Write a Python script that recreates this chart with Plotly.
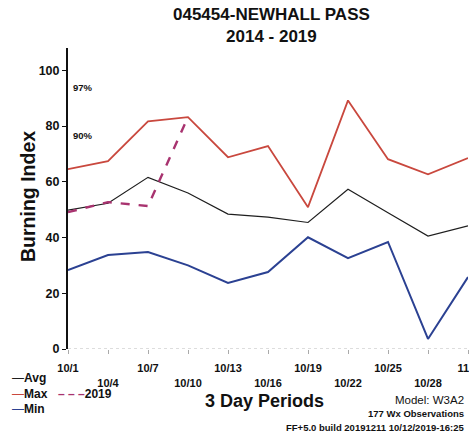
import plotly.graph_objects as go

categories = ["10/1", "10/4", "10/7", "10/10", "10/13", "10/16", "10/19", "10/22", "10/25", "10/28", "11/1"]
avg_vals = [49.8, 52.3, 61.6, 56.0, 48.4, 47.3, 45.4, 57.3, 48.9, 40.5, 44.2]
max_vals = [64.5, 67.4, 81.7, 83.2, 68.8, 72.8, 50.9, 89.2, 68.1, 62.7, 68.5]
min_vals = [28.3, 33.7, 34.8, 30.0, 23.7, 27.6, 40.1, 32.6, 38.4, 3.6, 25.8]
y2019_vals = [49.1, 52.7, 51.3, 83.2]
y_ticks = [0, 20, 40, 60, 80, 100]
pct_labels = [("97%", 93.9), ("90%", 76.7)]

W, H = 469, 434
L, R, T, B = 68, 1, 48, 85
PW, PH = W - L - R, H - T - B

def px(p):
    return (p - L) / PW

def py(p):
    return (H - B - p) / PH

FONT = "Liberation Sans, Arial, sans-serif"
C_AVG, C_MAX, C_MIN, C_19 = "#1e1e1e", "#c9483e", "#2b4192", "#a8336f"

tick_text = [c if i % 2 == 0 else " <br>" + c for i, c in enumerate(categories)]

fig = go.Figure()
fig.add_trace(go.Scatter(x=categories, y=max_vals, mode="lines", name="Max",
                         line=dict(color=C_MAX, width=1.8), showlegend=False))
fig.add_trace(go.Scatter(x=categories, y=avg_vals, mode="lines", name="Avg",
                         line=dict(color=C_AVG, width=1.2), showlegend=False))
fig.add_trace(go.Scatter(x=categories, y=min_vals, mode="lines", name="Min",
                         line=dict(color=C_MIN, width=2), showlegend=False))
fig.add_trace(go.Scatter(x=categories[:len(y2019_vals)], y=y2019_vals, mode="lines", name="2019",
                         line=dict(color=C_19, width=2.4, dash="dash"), showlegend=False))

fig.add_shape(type="line", xref="paper", yref="y", x0=0, x1=1, y0=0, y1=0,
              line=dict(color="#bbbbbb", width=1, dash="dot"), layer="below")

ann = []
ann.append(dict(text="<b>045454-NEWHALL PASS<br>2014 - 2019</b>", x=px(271), y=py(26), font=dict(size=17, color="#111")))
ann.append(dict(text="<b>Burning Index</b>", x=px(28), y=py(197), textangle=-90, font=dict(size=19.5, color="#111")))
ann.append(dict(text="<b>3 Day Periods</b>", x=px(264), y=py(401), font=dict(size=18, color="#111")))
for t, v in pct_labels:
    ann.append(dict(text="<b>" + t + "</b>", x=px(71), y=v, yref="y", xanchor="left", font=dict(size=9.5, color="#111")))
ann.append(dict(text="<span style='color:%s'>—</span><b>Avg</b>" % C_AVG, x=px(10), y=py(378), xanchor="left", font=dict(size=12, color="#111")))
ann.append(dict(text="<span style='color:%s'>—</span><b>Max</b>" % C_MAX, x=px(10), y=py(394), xanchor="left", font=dict(size=12, color="#111")))
ann.append(dict(text="<span style='color:%s'>—</span><b>Min</b>" % C_MIN, x=px(10), y=py(409), xanchor="left", font=dict(size=12, color="#111")))
ann.append(dict(text="<span style='color:%s'><b>– – –</b></span><b>2019</b>" % C_19, x=px(56), y=py(394), xanchor="left", font=dict(size=12, color="#111")))
ann.append(dict(text="Model: W3A2", x=px(466), y=py(400), xanchor="right", font=dict(size=11.5, color="#111")))
ann.append(dict(text="<b>177 Wx Observations</b>", x=px(466), y=py(413), xanchor="right", font=dict(size=9.5, color="#111")))
ann.append(dict(text="<b>FF+5.0 build 20191211 10/12/2019-16:25</b>", x=px(466), y=py(427), xanchor="right", font=dict(size=9.5, color="#111")))
for a in ann:
    a.setdefault("xref", "paper")
    a.setdefault("yref", "paper")
    a.setdefault("xanchor", "center")
    a["yanchor"] = "middle"
    a["showarrow"] = False
    fig.add_annotation(**a)

fig.update_layout(
    width=W, height=H,
    margin=dict(l=L, r=R, t=T, b=B, autoexpand=False),
    paper_bgcolor="white", plot_bgcolor="white",
    font=dict(family=FONT, color="#111"),
    showlegend=False,
)
fig.update_xaxes(type="category", categoryorder="array", categoryarray=categories,
                 range=[0, len(categories) - 1], showgrid=False, zeroline=False, showline=False,
                 tickmode="array", tickvals=categories, ticktext=tick_text,
                 ticks="outside", ticklen=4, tickcolor="#aaaaaa", tickwidth=1,
                 tickfont=dict(size=11, color="#111", weight="bold"), ticklabelstandoff=5,
                 automargin=False)
fig.update_yaxes(range=[0, 108], tickvals=y_ticks, showgrid=False, zeroline=False,
                 showline=True, linecolor="#111", linewidth=2,
                 ticks="outside", ticklen=4, tickcolor="#111",
                 tickfont=dict(size=12.5, color="#111", weight="bold"), automargin=False)

fig.write_html("out.html", config={"displayModeBar": False},
               post_script="document.body.style.margin='0';document.body.style.overflow='hidden';")
